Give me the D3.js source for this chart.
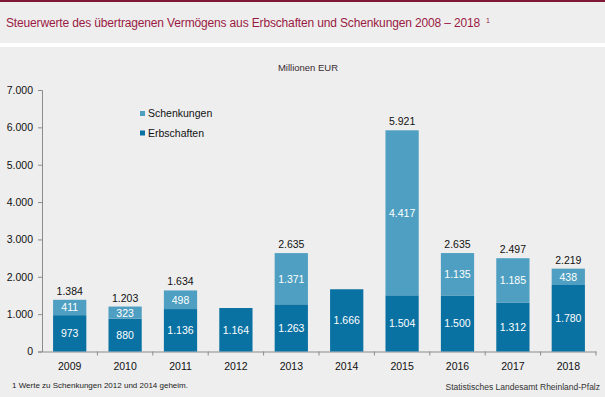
<!DOCTYPE html>
<html>
<head>
<meta charset="utf-8">
<script src="https://cdn.jsdelivr.net/npm/d3@7"></script>
<style>
	body { margin: 0; background: #ffffff; }
	svg { display: block; font-family: "Liberation Sans", Arial, sans-serif; }
</style>
</head>
<body>
<div id="chart"></div>
<script>
// Data
var years = ["2009", "2010", "2011", "2012", "2013", "2014", "2015", "2016", "2017", "2018"];
var erbschaften = [973, 880, 1136, 1164, 1263, 1666, 1504, 1500, 1312, 1780];
var schenkungen = [411, 323, 498, null, 1371, null, 4417, 1135, 1185, 438];
var totals = [1384, 1203, 1634, null, 2635, null, 5921, 2635, 2497, 2219];
var yTicks = [0, 1000, 2000, 3000, 4000, 5000, 6000, 7000];

var width = 605, height = 397;
var colErb = "#0a72a3", colSch = "#4e9fc1";
var fmt = function(v){ return d3.format(",")(v).replace(/,/g, "."); };

var svg = d3.select("#chart").append("svg")
	.attr("width", width)
	.attr("height", height);

// Background panels
svg.append("rect").attr("x", 0).attr("y", 0).attr("width", width).attr("height", 43).attr("fill", "#eeeeee");
svg.append("rect").attr("x", 0).attr("y", 0).attr("width", width).attr("height", 2).attr("fill", "#7f1836");
svg.append("rect").attr("x", 0).attr("y", 47).attr("width", width).attr("height", height - 47).attr("fill", "#eeeeee");

// Title: tighten letter spacing so it ends where the reference's does
var titleText = "Steuerwerte des übertragenen Vermögens aus Erbschaften und Schenkungen 2008 – 2018";
var title = svg.append("text")
	.attr("x", 6).attr("y", 27)
	.attr("fill", "#9a1a43")
	.style("font-size", "12px")
	.text(titleText);
var natural = title.node().getComputedTextLength();
if(natural > 474){
	title.style("letter-spacing", ((474 - natural) / titleText.length) + "px");
}
svg.append("text")
	.attr("x", 486).attr("y", 23)
	.attr("fill", "#9a1a43")
	.style("font-size", "7px")
	.text("1");

svg.append("text")
	.attr("x", 308).attr("y", 71)
	.attr("text-anchor", "middle")
	.attr("fill", "#3a2a30")
	.style("font-size", "9.5px")
	.text("Millionen EUR");

// Scales
var x = d3.scaleBand().domain(years).range([42, 596]).paddingInner(0.4).paddingOuter(0.2);
var y = d3.scaleLinear().domain([0, 7000]).range([351.5, 90]);

// Axes
var yAxis = svg.append("g").attr("transform", "translate(42,0)")
	.call(d3.axisLeft(y).tickValues(yTicks).tickFormat(fmt).tickSize(4).tickPadding(5));
var xAxis = svg.append("g").attr("transform", "translate(0," + y(0) + ")")
	.call(d3.axisBottom(x).tickSize(0).tickPadding(11));
[yAxis, xAxis].forEach(function(g){
	g.select(".domain").attr("stroke", "#8c8c8c");
	g.selectAll(".tick line").attr("stroke", "#8c8c8c");
	g.selectAll("text").attr("fill", "#111").style("font-size", "10.5px").style("font-family", "Liberation Sans, Arial, sans-serif");
});

// Tick marks between categories
var step = x.step();
for(var i = 1; i <= years.length; i++){
	svg.append("line")
		.attr("x1", 42 + i * step).attr("x2", 42 + i * step)
		.attr("y1", y(0)).attr("y2", y(0) + 4)
		.attr("stroke", "#8c8c8c");
}

// Bars
var bars = svg.append("g");
years.forEach(function(yr, i){
	var e = erbschaften[i], s = schenkungen[i];
	bars.append("rect")
		.attr("x", x(yr)).attr("width", x.bandwidth())
		.attr("y", y(e)).attr("height", y(0) - y(e))
		.attr("fill", colErb);
	bars.append("text")
		.attr("x", x(yr) + x.bandwidth() / 2).attr("y", (y(0) + y(e)) / 2 + 4)
		.attr("text-anchor", "middle").attr("fill", "#ffffff")
		.style("font-size", "10.5px").text(fmt(e));
	if(s != null){
		bars.append("rect")
			.attr("x", x(yr)).attr("width", x.bandwidth())
			.attr("y", y(e + s)).attr("height", y(e) - y(e + s))
			.attr("fill", colSch);
		bars.append("text")
			.attr("x", x(yr) + x.bandwidth() / 2).attr("y", (y(e) + y(e + s)) / 2 + 4)
			.attr("text-anchor", "middle").attr("fill", "#ffffff")
			.style("font-size", "10.5px").text(fmt(s));
	}
	if(totals[i] != null){
		bars.append("text")
			.attr("x", x(yr) + x.bandwidth() / 2).attr("y", y(totals[i]) - 5)
			.attr("text-anchor", "middle").attr("fill", "#111")
			.style("font-size", "10.5px").text(fmt(totals[i]));
	}
});

// Legend
var legend = [["Schenkungen", colSch], ["Erbschaften", colErb]];
legend.forEach(function(d, i){
	svg.append("rect").attr("x", 140).attr("y", 111 + i * 19.5).attr("width", 5).attr("height", 5).attr("fill", d[1]);
	svg.append("text").attr("x", 148).attr("y", 117 + i * 19.5)
		.attr("fill", "#111").style("font-size", "10.5px").text(d[0]);
});

// Footer
svg.append("text").attr("x", 12).attr("y", 388)
	.attr("fill", "#222").style("font-size", "8px")
	.text("1 Werte zu Schenkungen 2012 und 2014 geheim.");
svg.append("text").attr("x", 600).attr("y", 390)
	.attr("text-anchor", "end")
	.attr("fill", "#333").style("font-size", "8.5px")
	.text("Statistisches Landesamt Rheinland-Pfalz");
</script>
</body>
</html>
